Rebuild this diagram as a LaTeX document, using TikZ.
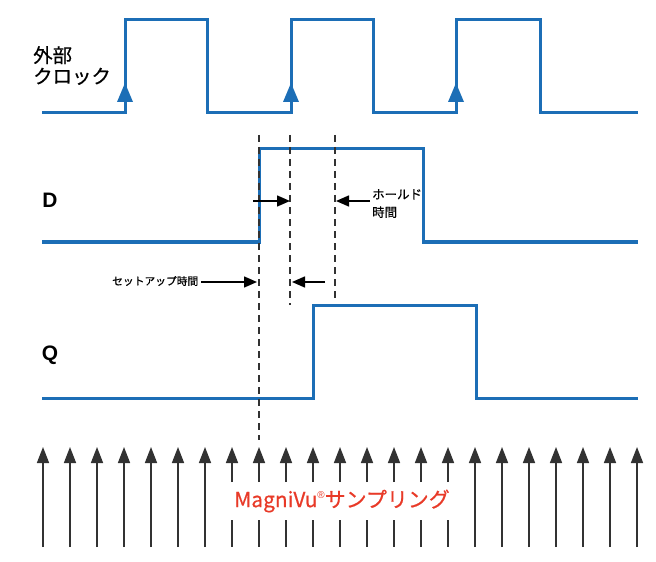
\documentclass[tikz,border=0pt]{standalone}
\usepackage{fontspec}
\setmainfont{Noto Sans CJK JP}[FakeBold=0.6]
\newfontfamily\labfont{Liberation Sans}
\usetikzlibrary{arrows.meta}
\definecolor{sigblue}{RGB}{28,110,182}
\definecolor{mvred}{RGB}{232,58,40}
\definecolor{dgray}{RGB}{50,50,50}
\tikzset{
  signal/.style={draw=sigblue,line width=3bp,line join=miter},
  guide/.style={draw=dgray,line width=1.3bp,dash pattern=on 7bp off 5bp},
  timearrow/.style={draw=black,line width=1.5bp,-{Triangle[length=13bp,width=11bp]}},
  sample/.style={draw=dgray,line width=1.6bp},
  samplearrow/.style={sample,-{Triangle[length=16bp,width=12bp]}},
  clkhead/.style={fill=sigblue,draw=none},
  jp/.style={inner sep=0pt,anchor=west,text=black},
  sig/.style={inner sep=0pt,font=\labfont\bfseries\fontsize{21}{21}\selectfont}
}
\begin{document}
\begin{tikzpicture}[x=1bp,y=-1bp]
\useasboundingbox (0,0) rectangle (656,562);
% clock
\draw[signal] (42,113) -- (125,113) -- (125,20) -- (207,20) -- (207,113) -- (291,113) -- (291,20) -- (373,20) -- (373,113) -- (456,113) -- (456,20) -- (540,20) -- (540,113) -- (638,113);
\foreach \x in {125,291,456}
  \fill[clkhead] (\x,83) -- (\x+8,102) -- (\x-8,102) -- cycle;
% D
\draw[signal] (42,242) -- (259,242) -- (259,149) -- (423,149) -- (423,242) -- (638,242);
% Q
\draw[signal] (42,398) -- (313,398) -- (313,305) -- (476,305) -- (476,398) -- (638,398);
% guides
\draw[guide] (259,135) -- (259,440);
\draw[guide] (290,135) -- (290,305);
\draw[guide] (335,135) -- (335,303);
% labels
\node[jp,font=\fontsize{19.5}{21}\selectfont,align=left,anchor=north west] (clk) at (33,46) {外部\\クロック};
\node[sig] (dl) at (50,200) {D};
\node[sig] (ql) at (50,355) {Q};
% timing arrows
\coordinate (a1s) at (253,201);
\coordinate (a1e) at (290,201);
\draw[timearrow] (a1s) -- (a1e);
\node[jp,font=\fontsize{12.5}{18}\selectfont,align=left,anchor=north west] (hold) at (372,189) {ホールド\\時間};
\coordinate (a2s) at (370,201);
\coordinate (a2e) at (336,201);
\draw[timearrow] (a2s) -- (a2e);
\node[jp,font=\fontsize{10.8}{12}\selectfont] (setup) at (112,281) {セットアップ時間};
\coordinate (a3s) at (201,282);
\coordinate (a3e) at (257,282);
\draw[timearrow] (a3s) -- (a3e);
\coordinate (a4s) at (325,282);
\coordinate (a4e) at (292,282);
\draw[timearrow] (a4s) -- (a4e);
% sampling arrows
\foreach \i in {0,...,22}{
  \pgfmathsetmacro{\xx}{43+27*\i}
  \ifnum\i<7
    \draw[samplearrow] (\xx,547) -- (\xx,447);
  \else\ifnum\i>15
    \draw[samplearrow] (\xx,547) -- (\xx,447);
  \else
    \draw[samplearrow] (\xx,482) -- (\xx,447);
    \draw[sample] (\xx,520) -- (\xx,547);
  \fi\fi
}
\node[inner sep=0pt,text=mvred,font=\fontsize{21}{21}\selectfont] (mv) at (342,501) {MagniVu\raisebox{0.42em}{\labfont\fontsize{10}{10}\selectfont ®}サンプリング};
\end{tikzpicture}
\end{document}
